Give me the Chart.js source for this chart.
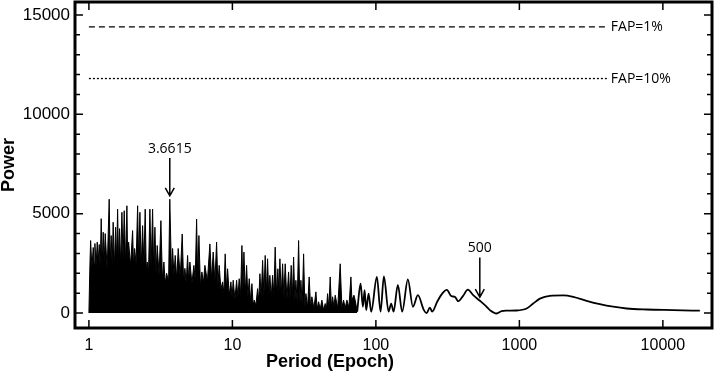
<!DOCTYPE html>
<html>
<head>
<meta charset="utf-8">
<script src="https://cdn.jsdelivr.net/npm/chart.js@4.4.0/dist/chart.umd.min.js"></script>
<style>
  html, body { margin: 0; padding: 0; background: #fff; }
  #wrap { width: 716px; height: 372px; }
</style>
</head>
<body>
<div id="wrap"><canvas id="chart" width="716" height="372"></canvas></div>
<script>
// short periods: dense forest of peaks, drawn filled
const densePeriods = [
  1.000, 1.016, 1.028, 1.049, 1.072, 1.087, 1.101, 1.122, 1.143, 1.161,
  1.180, 1.199, 1.218, 1.238, 1.258, 1.278, 1.299, 1.341, 1.385, 1.407,
  1.430, 1.453, 1.476, 1.505, 1.535, 1.560, 1.585, 1.611, 1.636, 1.666,
  1.698, 1.731, 1.762, 1.802, 1.840, 1.864, 1.891, 1.952, 2.016, 2.049,
  2.082, 2.133, 2.185, 2.223, 2.267, 2.314, 2.367, 2.416, 2.468, 2.508,
  2.549, 2.602, 2.661, 2.713, 2.779, 2.829, 2.884, 2.940, 2.992, 3.085,
  3.175, 3.252, 3.332, 3.402, 3.479, 3.593, 3.6615, 3.770, 3.831, 3.912,
  3.995, 4.092, 4.192, 4.328, 4.469, 4.570, 4.667, 4.764, 4.873, 4.960,
  5.056, 5.222, 5.392, 5.506, 5.631, 5.731, 5.843, 5.984, 6.130, 6.279,
  6.432, 6.695, 6.968, 7.162, 7.349, 7.551, 7.761, 7.925, 8.091, 8.315,
  8.545, 8.726, 8.909, 9.083, 9.260, 9.500, 9.761, 9.952, 10.13, 10.41,
  10.70, 10.92, 11.15, 11.40, 11.65, 11.84, 12.03, 12.29, 12.56, 12.82,
  13.10, 13.39, 13.68, 13.94, 14.19, 14.58, 14.98, 15.25, 15.55, 15.88,
  16.24, 16.58, 16.93, 17.26, 17.59, 17.91, 18.25, 18.64, 19.06, 19.46,
  19.87, 20.32, 20.75, 21.09, 21.43, 21.89, 22.38, 22.85, 23.33, 23.98,
  24.64, 25.16, 25.69, 26.19, 26.70, 27.26, 27.70, 28.29, 28.93, 29.54,
  30.02, 30.65, 31.35, 32.01, 32.53, 33.42, 34.29, 35.07, 35.81, 36.98,
  38.19, 38.99, 39.88, 40.91, 42.05, 43.21, 44.34, 45.20, 46.08, 47.05,
  48.04, 48.98, 49.93, 50.98, 52.06, 54.19, 56.40, 57.96, 59.56, 61.11,
  62.81, 64.86, 66.98, 68.06, 70.28, 71.76, 74.09
];
const densePower = [
  0, 2400, 3650, 2300, 3300, 2500, 3500, 2400, 3570, 2600,
  3450, 2300, 4750, 2500, 4070, 2600, 4000, 2200, 5730, 2500,
  3900, 2400, 4570, 2300, 4320, 2600, 5230, 2500, 4250, 2400,
  5070, 2700, 5150, 2500, 5400, 2600, 3570, 2400, 4150, 2300,
  3250, 2500, 5400, 2600, 5070, 2300, 4400, 2500, 5230, 2200,
  2570, 2000, 5230, 2300, 5230, 2100, 4320, 2000, 3400, 1900,
  4650, 1700, 2570, 1500, 2000, 1600, 5730, 1800, 3250, 1900,
  2900, 1700, 3250, 1800, 3980, 1600, 2250, 1500, 2900, 1600,
  2570, 1500, 2400, 1700, 4730, 1800, 3900, 1400, 2070, 1500,
  2400, 1600, 3480, 1700, 3070, 1600, 3570, 1400, 2400, 1200,
  1570, 1000, 2980, 1200, 2230, 900, 1570, 800, 1650, 700,
  1650, 800, 1730, 900, 3400, 1200, 3070, 1000, 2400, 800,
  1730, 600, 1480, 400, 650, 400, 1230, 600, 1980, 800,
  2650, 900, 2900, 1000, 2730, 900, 1900, 800, 1900, 900,
  3320, 900, 2230, 1000, 2730, 900, 2480, 800, 2480, 700,
  2070, 700, 2400, 800, 2820, 600, 1650, 500, 3650, 500,
  1650, 400, 2980, 300, 980, 300, 1820, 300, 820, 250,
  1070, 200, 570, 200, 650, 150, 480, 200, 980, 250,
  1820, 300, 820, 300, 900, 250, 2480, 300, 650, 250,
  650, 300, 1820, 650, 900, 650, 70
];

// long periods: smooth curve
const tailPeriods = [
  74.09, 78.24, 81.18, 83.43, 85.59, 88.94, 92.73, 101.6, 107.8, 113.7,
  122.6, 127.8, 132.8, 142.3, 152.5, 167.1, 181.1, 196.2, 216.0, 225.6,
  237.9, 246.8, 267.4, 289.7, 312.4, 335.9, 355.3, 374.6, 404.0, 437.7,
  476.6, 530.5, 575.1, 622.9, 693.6, 751.6, 814.4, 956.1, 1123, 1248,
  1390, 1631, 2020, 2371, 2940, 3639, 4505, 5585, 7698, 11800, 18100
];
const tailPower = [
  70, 1480, 320, 1150, 150, 980, 70, 1820, 70, 1850,
  70, 480, 70, 1420, 70, 1700, 320, 900, 150, 0,
  280, 70, 570, 980, 1170, 850, 820, 600, 850, 1180,
  900, 620, 400, 150, -20, 100, 120, 130, 230, 480,
  730, 870, 890, 820, 620, 450, 320, 230, 180, 150, 120
];

const xTickValues = [1, 10, 100, 1000, 10000];
const yTickValues = [0, 5000, 10000, 15000];
const yMinorStep = 1000;

const fapLevels = [14400, 11800];
const fapLabels = ['FAP=1%', 'FAP=10%'];
const fapStart = 1;
const fapEnd = 4070;

const peakLabels = ['3.6615', '500'];
const peakPeriods = [3.6615, 530];
const arrowTop = [7800, 2800];
const arrowTip = [5900, 800];

const pts = (xs, ys) => xs.map((x, i) => ({ x: x, y: ys[i] }));

const decorations = {
  id: 'decorations',
  afterDatasetsDraw(chart) {
    const { ctx, chartArea: a, scales: { x, y } } = chart;
    ctx.save();
    ctx.strokeStyle = '#000';
    ctx.fillStyle = '#000';

    // inward ticks on all four sides
    ctx.lineWidth = 1.5;
    ctx.beginPath();
    xTickValues.forEach(v => {
      const px = x.getPixelForValue(v);
      ctx.moveTo(px, a.bottom); ctx.lineTo(px, a.bottom - 8);
      ctx.moveTo(px, a.top); ctx.lineTo(px, a.top + 8);
    });
    for (let v = 0; v <= y.max; v += yMinorStep) {
      const len = v % 5000 === 0 ? 8 : 5;
      const py = y.getPixelForValue(v);
      ctx.moveTo(a.left, py); ctx.lineTo(a.left + len, py);
      ctx.moveTo(a.right, py); ctx.lineTo(a.right - len, py);
    }
    ctx.stroke();

    // frame
    ctx.lineWidth = 3;
    ctx.strokeRect(a.left, a.top, a.right - a.left, a.bottom - a.top);

    // FAP labels
    ctx.font = '14px "Open Sans", "Liberation Sans", sans-serif';
    ctx.textAlign = 'left';
    ctx.textBaseline = 'middle';
    fapLevels.forEach((v, i) => {
      ctx.fillText(fapLabels[i], x.getPixelForValue(fapEnd) + 4, y.getPixelForValue(v));
    });

    // peak arrows
    ctx.lineWidth = 1.5;
    ctx.textAlign = 'center';
    ctx.textBaseline = 'bottom';
    peakPeriods.forEach((p, i) => {
      const px = x.getPixelForValue(p);
      const top = y.getPixelForValue(arrowTop[i]);
      const tip = y.getPixelForValue(arrowTip[i]);
      ctx.beginPath();
      ctx.moveTo(px, top); ctx.lineTo(px, tip);
      ctx.moveTo(px - 4.5, tip - 8); ctx.lineTo(px, tip); ctx.lineTo(px + 4.5, tip - 8);
      ctx.stroke();
      ctx.fillText(peakLabels[i], px, top - 2);
    });

    // x axis title
    ctx.font = 'bold 18px "Liberation Sans Narrow", "Liberation Sans", sans-serif';
    ctx.textBaseline = 'alphabetic';
    ctx.fillText('Period (Epoch)', 330, 367);
    ctx.restore();
  }
};

new Chart(document.getElementById('chart'), {
  type: 'line',
  data: {
    datasets: [
      {
        data: pts(densePeriods, densePower),
        borderColor: '#000',
        backgroundColor: '#000',
        borderWidth: 1,
        fill: 'origin',
        tension: 0,
      },
      {
        data: pts(tailPeriods, tailPower),
        borderColor: '#000',
        borderWidth: 1.8,
        fill: false,
        cubicInterpolationMode: 'monotone',
      },
      {
        data: pts([fapStart, fapEnd], [fapLevels[0], fapLevels[0]]),
        borderColor: '#000',
        borderWidth: 1.3,
        borderDash: [6, 4],
        fill: false,
      },
      {
        data: pts([fapStart, fapEnd], [fapLevels[1], fapLevels[1]]),
        borderColor: '#000',
        borderWidth: 1.3,
        borderDash: [2, 2],
        fill: false,
      },
    ],
  },
  options: {
    responsive: false,
    animation: false,
    devicePixelRatio: 1,
    layout: { padding: { top: 2, right: 4, left: 0, bottom: 0 } },
    elements: { point: { radius: 0 } },
    plugins: { legend: { display: false }, tooltip: { enabled: false } },
    scales: {
      x: {
        type: 'logarithmic',
        min: 0.8,
        max: 22000,
        grid: { display: false, drawTicks: false },
        border: { display: false },
        afterBuildTicks: (s) => { s.ticks = xTickValues.map(v => ({ value: v })); },
        afterFit: (s) => { s.height = 44; s.paddingLeft = 0; s.paddingRight = 0; },
        ticks: {
          autoSkip: false,
          maxRotation: 0,
          padding: 8,
          color: '#000',
          font: { family: '"Liberation Sans Narrow", "Liberation Sans", sans-serif', size: 16 },
          callback: (v) => String(v),
        },
      },
      y: {
        min: -750,
        max: 15650,
        grid: { display: false, drawTicks: false },
        border: { display: false },
        afterBuildTicks: (s) => { s.ticks = yTickValues.map(v => ({ value: v })); },
        afterFit: (s) => { s.width = 75; s.paddingTop = 0; s.paddingBottom = 0; },
        ticks: {
          padding: 5,
          color: '#000',
          font: { family: '"Liberation Sans", sans-serif', size: 17 },
          callback: (v) => String(v),
        },
        title: {
          display: true,
          text: 'Power',
          color: '#000',
          padding: { top: 0, bottom: 0 },
          font: { family: '"Liberation Sans", sans-serif', size: 18, weight: 'bold', lineHeight: 1 },
        },
      },
    },
  },
  plugins: [decorations],
});
</script>
</body>
</html>
